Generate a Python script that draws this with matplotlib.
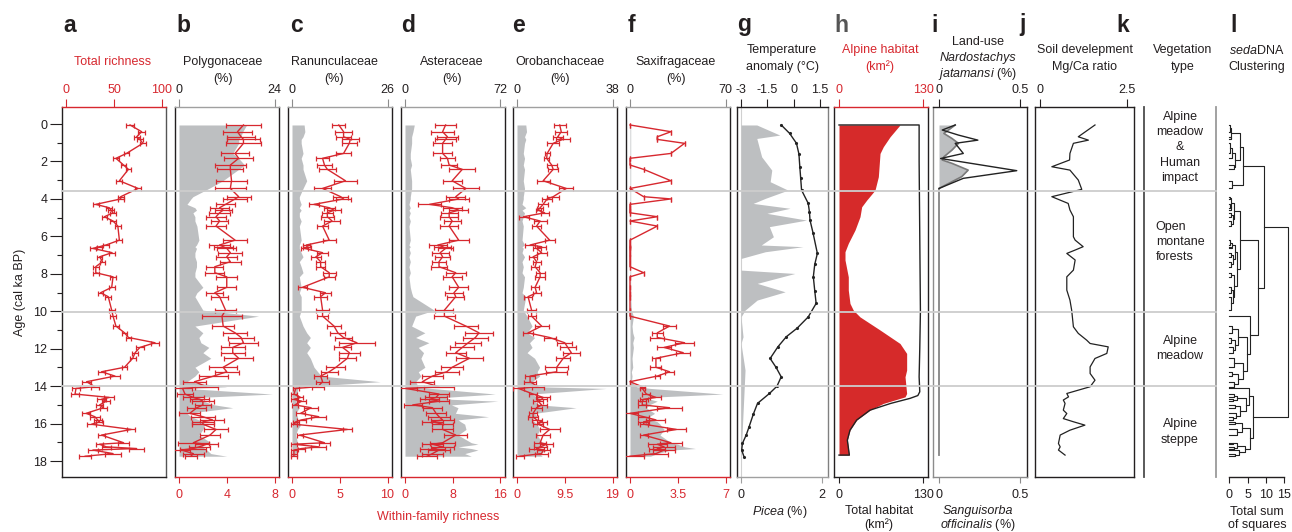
import matplotlib
matplotlib.use("Agg")
import matplotlib.pyplot as plt
from matplotlib.lines import Line2D
from matplotlib.ticker import MultipleLocator
from matplotlib.transforms import blended_transform_factory

plt.rcParams['font.family'] = ['Liberation Sans', 'DejaVu Sans']
plt.rcParams['mathtext.fontset'] = 'custom'
plt.rcParams['mathtext.rm'] = 'Liberation Sans'
plt.rcParams['mathtext.it'] = 'Liberation Sans:italic'
plt.rcParams['axes.unicode_minus'] = False

# ---------------------------------------------------------------- data
ages = [0.05, 0.41, 0.68, 0.82, 1.03, 1.57, 1.83, 2.19, 2.42, 3.03,
        3.44, 3.88, 4.00, 4.29, 4.47, 4.60, 4.74, 4.95, 5.18, 5.45,
        6.20, 6.46, 6.55, 6.64, 6.87, 7.09, 7.35, 7.62, 7.94, 8.16,
        8.72, 9.01, 9.22, 9.94, 10.26, 10.79, 11.15, 11.40, 11.68, 11.93,
        12.21, 12.51, 12.99, 13.23, 13.46, 13.76, 14.03, 14.12, 14.42, 14.60,
        14.70, 14.80, 15.00, 15.15, 15.45, 15.63, 15.80, 15.90, 16.03, 16.31,
        16.61, 17.02, 17.10, 17.24, 17.33, 17.41, 17.60, 17.74]

rich_a = [66.7, 78.8, 73.6, 77, 80, 63, 52, 60, 65, 55.6,
          75, 57, 57, 31, 45, 47, 49, 40, 49, 54,
          55.6, 41.7, 35, 28, 48, 35, 38, 31, 31, 49,
          47.6, 36, 44, 47.6, 49, 52, 61, 65, 92.7, 77,
          72, 69.5, 61, 37, 51, 21.5, 30, 10.4, 9.4, 45,
          37, 42, 35, 39, 21, 30, 33, 35, 26.7, 68,
          37, 60, 35, 42, 73.6, 28, 49, 20]
err_a = [4, 4, 3, 3, 3, 3, 3, 3, 3, 3,
         3, 3, 3, 3, 3, 3, 3, 3, 3, 3,
         3, 3, 3, 3, 3, 3, 3, 3, 3, 3,
         3, 3, 3, 3, 3, 3, 3, 3, 4, 4,
         3, 3, 3, 4, 5, 5, 4, 4, 4, 5,
         5, 4, 4, 4, 4, 5, 4, 4, 5, 4,
         4, 6, 4, 5, 8, 5, 8, 6]

rich_b = [5.4, 4.9, 5.2, 5.4, 5.4, 4.7, 5.0, 4.3, 4.3, 4.4,
          4.3, 5.0, 4.7, 3.9, 3.4, 3.7, 3.4, 3.1, 3.4, 3.1,
          4.7, 3.4, 3.7, 4.0, 4.3, 4.0, 4.3, 3.0, 3.0, 4.0,
          4.0, 3.0, 3.4, 3.9, 3.6, 3.7, 4.7, 5.2, 5.4, 4.5,
          4.5, 5.0, 3.7, 4.0, 2.9, 1.3, 2.3, 0.3, 0.5, 1.2,
          1.7, 2.0, 2.0, 1.5, 0.9, 2.0, 2.8, 2.0, 2.0, 3.1,
          2.6, 1.2, 2.3, 1.7, 1.2, 0.2, 1.2, 1.0]
err_b = [1.5, 1.2, 1.2, 1.4, 1.5, 1.2, 1.2, 1.3, 1.1, 1.3,
         1.3, 1.0, 1.0, 0.8, 0.8, 0.7, 0.9, 0.8, 0.7, 0.8,
         1.0, 0.9, 0.8, 0.8, 1.0, 0.9, 0.9, 0.7, 0.8, 0.9,
         0.8, 0.7, 0.7, 0.9, 1.7, 0.9, 1.0, 1.1, 1.2, 1.0,
         1.0, 1.2, 1.2, 1.0, 1.2, 1.0, 1.0, 0.8, 0.7, 0.9,
         0.8, 0.9, 0.7, 0.8, 0.9, 1.0, 1.0, 0.9, 0.9, 1.0,
         0.8, 1.3, 1.0, 0.9, 1.1, 0.7, 0.9, 0.5]
pct_b = [17, 16, 15.5, 15, 15, 13.5, 15, 16.5, 15, 11,
         7.5, 3.5, 3, 2, 4, 4.4, 3.5, 4, 4, 4.5,
         5, 4.4, 4, 4.4, 4, 4, 4.4, 4.4, 4, 4,
         6, 4.5, 4, 6, 20, 4, 6, 5, 5.5, 7.5,
         6, 8, 4, 5, 4, 2, 12, 2, 23.5, 5,
         6, 6, 9, 13.5, 2, 3, 5, 6, 6.5, 6,
         5, 8, 6, 6, 6.5, 7, 8, 12]

rich_c = [4.9, 5.4, 5.4, 6.1, 6.0, 5.4, 3.2, 3.4, 3.7, 5.6,
          3.2, 5.1, 5.4, 2.3, 3.9, 4.4, 3.7, 3.7, 4.2, 3.2,
          3.9, 1.5, 1.6, 1.3, 3.2, 2.5, 3.0, 3.0, 3.9, 3.9,
          1.1, 3.5, 3.0, 3.2, 3.2, 4.4, 4.8, 5.4, 6.8, 5.3,
          6.0, 5.8, 4.6, 3.9, 3.0, 3.2, 2.7, 0.4, 0.2, 0.9,
          0.2, 1.0, 0.3, 2.0, 0.9, 2.8, 1.0, 0.4, 0.2, 5.8,
          0.8, 3.4, 0.2, 2.8, 1.0, 0.2, 0.2, 0.2]
err_c = [0.7, 0.9, 0.8, 0.9, 0.8, 0.8, 0.7, 0.8, 0.9, 1.2,
         0.9, 0.8, 0.8, 0.5, 0.6, 0.7, 0.6, 0.7, 0.8, 0.6,
         0.7, 0.4, 0.4, 0.4, 0.6, 0.5, 0.5, 0.5, 0.7, 0.6,
         0.5, 0.6, 0.7, 0.7, 0.6, 0.7, 0.8, 0.9, 1.9, 0.9,
         1.1, 0.9, 1.0, 0.9, 0.7, 0.7, 0.6, 0.3, 0.3, 0.3,
         0.3, 0.5, 0.3, 0.7, 0.5, 0.8, 0.5, 0.3, 0.3, 0.5,
         0.3, 0.6, 0.3, 0.8, 0.4, 0.3, 0.3, 0.3]
pct_c = [3.3, 3.5, 3, 2.5, 2.5, 3, 2.5, 3, 3, 4,
         3, 2, 2, 2.5, 2, 2.5, 2, 2, 2.5, 2,
         2.5, 2, 2, 2, 2.5, 3, 2, 2.5, 3, 2,
         2.5, 2, 2.5, 2.5, 2, 3, 4, 5, 4, 5,
         4, 5, 6, 7, 8, 24, 3, 1.5, 1.5, 1,
         1.5, 1, 1.5, 2, 1, 1.5, 1.5, 1, 2.5, 1.5,
         1, 1.5, 1, 1.5, 1, 1.5, 1, 1]

rich_d = [6.8, 6.3, 7.1, 6.8, 6.3, 6.3, 7.1, 7.4, 9.6, 7.9,
          10.2, 8.5, 9.0, 4.1, 7.9, 9.0, 7.4, 7.4, 7.9, 7.4,
          9.0, 5.5, 6.3, 6.8, 5.9, 6.3, 5.7, 5.7, 8.5, 7.9,
          9.0, 8.2, 8.5, 6.6, 6.6, 10.2, 12.4, 11.8, 10.6, 9.6,
          8.5, 10.8, 7.9, 7.0, 4.6, 2.9, 5.7, 0.1, 5.7, 5.2,
          4.1, 5.7, 1.3, 4.6, 5.2, 5.7, 6.3, 4.6, 6.3, 6.3,
          8.5, 6.3, 4.6, 6.3, 4.6, 5.7, 4.6, 3.7]
err_d = [1.8, 1.9, 1.7, 1.8, 1.6, 1.6, 1.2, 1.3, 2.2, 1.6,
         2.2, 1.6, 1.7, 1.9, 1.6, 1.6, 1.4, 1.5, 1.4, 1.5,
         1.7, 1.5, 1.4, 1.3, 1.4, 1.3, 1.2, 1.4, 1.7, 1.6,
         1.6, 1.5, 1.4, 1.5, 1.8, 2.0, 2.3, 2.1, 2.2, 2.0,
         1.7, 2.2, 1.8, 2.0, 1.8, 2.0, 2.5, 1.9, 1.7, 1.8,
         1.6, 1.7, 1.5, 1.6, 1.7, 1.8, 1.9, 1.7, 1.8, 1.8,
         1.9, 2.1, 1.8, 1.9, 2.1, 1.8, 1.8, 1.7]
pct_d = [7, 6, 5, 5, 5, 4, 4, 5, 4, 5,
         5, 4, 4, 3, 4, 3, 4, 3, 4, 3,
         4, 3, 4, 3, 4, 3, 4, 3, 4, 3,
         4, 5, 6, 22, 8, 5, 15, 8, 18, 10,
         14, 12, 15, 10, 12, 8, 10, 20, 68, 30,
         35, 70, 35, 40, 38, 63, 40, 42, 45, 46,
         40, 50, 55, 40, 50, 55, 45, 50]

rich_e = [8.5, 8.8, 8.1, 9.1, 7.2, 6.0, 5.9, 6.9, 7.2, 5.2,
          9.8, 7.2, 6.0, 5.2, 4.6, 4.2, 5.5, 1.3, 4.6, 3.9,
          6.5, 2.6, 4.9, 3.9, 4.9, 3.2, 3.9, 3.6, 4.6, 4.6,
          3.6, 3.9, 2.2, 2.9, 2.9, 4.9, 2.2, 6.5, 9.5, 10.1,
          10.8, 9.2, 7.9, 7.9, 2.6, 2.6, 4.2, 0.3, 3.2, 5.2,
          4.9, 4.2, 4.9, 3.9, 3.2, 3.2, 3.9, 4.9, 4.2, 6.5,
          5.2, 4.6, 5.9, 4.6, 3.9, 5.2, 4.9, 0.6]
err_e = [1.2, 1.2, 1.0, 1.4, 1.2, 0.5, 0.5, 1.0, 1.0, 1.3,
         1.4, 1.2, 1.0, 1.0, 0.6, 0.5, 0.8, 1.0, 1.3, 0.9,
         1.0, 1.0, 0.9, 0.8, 1.0, 0.8, 0.8, 0.8, 0.9, 1.0,
         0.8, 0.8, 0.8, 0.9, 0.8, 1.4, 1.0, 1.2, 1.5, 1.6,
         1.7, 1.4, 2.3, 2.1, 1.0, 1.2, 1.2, 1.0, 0.8, 1.4,
         1.0, 1.0, 1.0, 1.1, 0.8, 1.0, 1.0, 1.0, 1.0, 2.0,
         1.4, 1.2, 1.3, 1.3, 1.5, 1.3, 1.3, 0.8]
pct_e = [3.5, 3.8, 3, 3.5, 3, 2.5, 3, 2.5, 3, 2.5,
         3, 2.5, 2.5, 2, 3.5, 2, 3, 2.5, 2, 2.5,
         2, 3, 2, 2.5, 2, 3, 2, 2.5, 2, 3,
         2.5, 2, 3.5, 2.5, 4, 6, 4, 7, 5, 6,
         4, 7, 9, 8, 9, 6, 8, 35.5, 6, 8,
         10, 7, 9, 23.5, 7, 8, 6, 7, 8, 9,
         8, 10, 9, 11, 8, 12, 9, 10]

rich_f = [0, 3.0, 2.0, 2.0, 4.0, 3.0, 0, 0, 1.0, 3.0,
          0, 1.0, 3.0, 0, 0, 0, 0, 2.0, 0, 2.0,
          0, 0, 0, 0, 0, 0, 0, 0, 1.0, 0,
          0, 0, 0, 0, 0, 2.9, 2.0, 2.0, 4.0, 2.5,
          3.9, 1.9, 1.9, 2.9, 2.0, 0, 0.9, 0.9, 1.2, 1.9,
          1.0, 0.9, 0.9, 2.9, 0, 1.0, 1.9, 1.0, 1.0, 3.4,
          1.0, 3.0, 2.0, 2.5, 2.0, 2.5, 1.9, 0]
err_f = [0, 0, 0, 0, 0, 0, 0, 0, 0, 0,
         0, 0, 0, 0, 0, 0, 0, 0, 0, 0,
         0, 0, 0, 0, 0, 0, 0, 0, 0, 0,
         0, 0, 0, 0, 0, 0.5, 0.4, 0.5, 0.7, 0.5,
         0.5, 0.3, 0.4, 0.3, 0.2, 0.0, 0.2, 0.2, 0.3, 0.4,
         0.3, 0.3, 0.3, 0.9, 0.6, 0.4, 0.7, 0.4, 0.3, 0.7,
         0.3, 0.8, 0.7, 0.8, 0.6, 0.8, 0.9, 1.0]
pct_f = [0.5, 0.5, 0.5, 0.5, 0.5, 0.5, 0.5, 0.5, 0.5, 0.5,
         0.5, 0.5, 0.5, 0.5, 0.5, 0.5, 0.5, 0.5, 0.5, 0.5,
         0.5, 0.5, 0.5, 0.5, 0.5, 0.5, 0.5, 0.5, 0.5, 0.5,
         0.5, 0.5, 0.5, 1, 2.5, 1.5, 2, 3, 2, 2.5,
         2, 1.5, 2, 1, 1.5, 1, 5, 15, 68, 12,
         15, 20, 14, 12, 18, 14, 16, 20, 22, 25,
         22, 30, 35, 40, 48, 30, 20, 15]

temp_ages = [0.05, 0.5, 1.03, 1.6, 2.28, 2.9, 3.53, 4.24, 4.7, 5.13, 5.8, 6.91,
             7.5, 8.16, 8.9, 9.58, 10.3, 10.9, 11.36, 11.9, 12.52, 13.0, 13.5,
             14.0, 14.39, 14.92, 15.5, 16.17, 16.6, 17.06, 17.41, 17.77]
temp_vals = [-0.71, -0.23, 0.16, 0.3, 0.35, 0.4, 0.45, 0.83, 0.9, 0.93, 1.1, 1.35,
             1.2, 1.12, 1.2, 1.28, 0.83, 0.2, -0.42, -0.9, -1.34, -1.0, -0.71,
             -0.95, -1.38, -2.06, -2.3, -2.54, -2.7, -2.92, -2.96, -2.83]

picea_ages = [0.05, 0.59, 0.77, 1.75, 2.46, 3.08, 3.53, 3.97, 4.24, 4.5, 4.77, 5.13,
              5.48, 6.02, 6.46, 6.55, 6.82, 7.18, 7.8, 7.98, 8.51, 8.96, 9.4, 9.94,
              10.3, 11.36, 11.72, 13.14, 17.77]
picea_vals = [0.39, 0.96, 0.39, 0.51, 0.76, 0.72, 1.16, 0.6, 0.3, 1.21, 0.64, 1.62,
              0.7, 0.8, 0.5, 1.53, 0.6, 0.0, 0.0, 1.33, 0.4, 1.09, 0.4, 0.1,
              0.0, 0.05, 0.0, 0.1, 0.0]

hab_ages = [0.05, 0.68, 1.21, 1.57, 2.81, 3.53, 4.06, 4.42, 4.95, 5.66, 6.37, 6.82,
            7.26, 8.16, 8.87, 9.58, 9.94, 10.3, 11.0, 11.72, 12.25, 13.14, 13.5,
            14.39, 14.57, 14.92, 15.28, 15.81, 16.35, 16.88, 17.68]
alpine_vals = [94.4, 79, 68.6, 63.5, 60.9, 55.7, 42.9, 35.1, 32.5, 24.8, 14.4, 9.3,
               9.3, 14.4, 14.4, 17, 22.1, 32.5, 63.5, 94.4, 104.7, 104.7, 102.2,
               104.7, 102.2, 68.6, 48, 27.3, 17, 12.9, 16]
total_ages = [0.05, 0.05, 2.0, 6.0, 10.0, 12.0, 13.5, 14.3, 14.5, 14.65, 14.92,
              15.28, 15.81, 16.35, 16.88, 17.68, 17.68]
total_vals = [0, 124, 124, 125, 126, 125, 124, 125, 122, 110, 80,
              48, 27.3, 17, 12.9, 16, 0]

nard_ages = [0.05, 0.32, 0.59, 0.86, 1.03, 1.57, 1.84, 2.49, 2.9, 3.44]
nard_vals = [0.1, 0.02, 0.12, 0.24, 0.1, 0.15, 0.01, 0.48, 0.15, 0.0]
sang_ages = [0.05, 0.5, 0.77, 1.03, 1.39, 1.75, 1.92, 2.1, 2.46, 2.81, 3.44, 17.68]
sang_vals = [0.1, 0.03, 0.08, 0.12, 0.08, 0.03, 0.02, 0.08, 0.18, 0.14, 0.0, 0.0]

mg_ages = [0.05, 0.68, 0.86, 1.03, 1.57, 1.92, 2.28, 2.46, 2.99, 3.49,
           3.88, 4.24, 4.59, 4.95, 5.48, 6.02, 6.2, 6.55, 6.73, 6.91,
           7.26, 7.8, 8.16, 8.87, 9.4, 9.94, 10.83, 11.18, 11.54, 11.72,
           11.9, 12.25, 12.52, 12.97, 13.32, 13.68, 14.03, 14.39, 14.57, 14.74,
           14.92, 15.28, 15.46, 15.73, 15.9, 16.08, 16.35, 16.61, 17.06, 17.24,
           17.41, 17.68]
mg_vals = [1.58, 1.1, 1.39, 0.96, 0.86, 0.85, 0.34, 0.86, 1.1, 1.2,
           0.34, 0.81, 0.86, 0.96, 0.96, 0.96, 1.01, 1.24, 1.01, 0.77,
           1.01, 0.96, 0.77, 0.77, 0.86, 0.91, 0.96, 1.1, 1.34, 1.44,
           1.96, 1.92, 1.58, 1.44, 1.44, 1.58, 1.44, 0.77, 0.82, 0.67,
           0.72, 0.67, 0.77, 0.67, 0.96, 1.29, 0.86, 0.58, 0.53, 0.58,
           0.53, 0.72]

zone_bounds = [3.56, 10.03, 14.0]
veg_types = ['Alpine\nmeadow\n&\nHuman\nimpact', 'Open\nmontane\nforests',
             'Alpine\nmeadow', 'Alpine\nsteppe']

# dendrogram: (height, left, right); ints are sample indices into `ages`
C1 = (3.8, (3.0, (0.6, (0.3, 0, 1), (0.4, 2, 3)),
            (1.5, (0.8, (0.3, 4, 5), 6), (1.2, 7, 8))), (0.8, 9, 10))
C2 = (2.9, (1.3, (0.6, (0.3, 11, 12), (0.4, (0.2, 13, 14), 15)),
            (0.9, (0.5, 16, 17), (0.6, 18, 19))),
      (2.2, (1.5, (0.8, (0.3, 20, 21), (0.4, 22, 23)),
             (1.0, (0.5, 24, 25), (0.6, 26, 27))),
       (1.2, (0.6, 28, 29), (0.9, (0.4, 30, 31), (0.5, 32, 33)))))
C3 = (5.7, 34, (4.9, (2.4, (0.8, 35, 36), (1.5, (0.6, 37, 38), (0.9, 39, 40))),
                (3.8, (1.2, 41, 42), (2.5, (0.8, 43, 44), (1.4, 45, 46)))))
C4 = (6.4, (5.4, 47, (4.6, (2.0, (1.2, 48, 49), (0.9, 50, 51)),
                      (3.0, (1.5, 52, 53), (1.8, 54, (1.0, 55, 56))))),
      (5.8, (3.4, (1.6, 57, 58), (2.2, 59, 60)),
       (4.2, (2.0, (1.0, 61, 62), (1.4, 63, 64)), (2.6, 65, (1.5, 66, 67)))))
tree = (16.2, (9.6, C1, (7.9, C2, C3)), C4)

# ---------------------------------------------------------------- style
W, H = 1292, 532
FS = 9
RED = '#d7282f'
GREY = '#bdbfc1'
TXT = '#231f20'
TOP, BOT = 107, 477
AGE_LIM = (18.85, -0.91)

fig = plt.figure(figsize=(W / 100, H / 100), dpi=100)


def rect(x0, x1):
    return [x0 / W, (H - BOT) / H, (x1 - x0) / W, (BOT - TOP) / H]


def make_lim(v0, v1, x0, x1, p0, p1):
    s = (v1 - v0) / (p1 - p0)
    return (v0 - (p0 - x0) * s, v1 + (x1 - p1) * s)


def style_x(ax, side, ticks, labels, tick_color, label_color):
    ax.set_xticks(ticks)
    ax.set_xticklabels(labels)
    if side == 'top':
        ax.tick_params(axis='x', which='both', top=True, bottom=False,
                       labeltop=True, labelbottom=False, length=6, pad=2)
    else:
        ax.tick_params(axis='x', which='both', top=False, bottom=True,
                       labeltop=False, labelbottom=True, length=4.5, pad=4)
    ax.tick_params(axis='x', direction='out', width=0.8, color=tick_color,
                   labelcolor=label_color, labelsize=FS)


def set_spines(ax, top=None, bottom=None, left=None, right=None, lw=1.0):
    for name, c in (('top', top), ('bottom', bottom), ('left', left), ('right', right)):
        if c is None:
            ax.spines[name].set_visible(False)
        else:
            ax.spines[name].set_color(c)
            ax.spines[name].set_linewidth(lw)


def lines_at(cx, ys, strs, color=TXT, styles=None):
    for i, (y, s) in enumerate(zip(ys, strs)):
        st = styles[i] if styles else 'normal'
        fig.text(cx / W, 1 - y / H, s, ha='center', va='center', fontsize=FS,
                 color=color, style=st)


def eb(ax, x, y, e):
    ax.errorbar(x, y, xerr=e, fmt='-', color=RED, ecolor=RED, lw=1.0,
                elinewidth=0.9, capsize=1.8, capthick=0.9, zorder=3)


# ---------------------------------------------------------------- panel a
ax_a = fig.add_axes(rect(62, 166))
ax_a.set_ylim(AGE_LIM)
ax_a.set_xlim(make_lim(0, 100, 62, 166, 66, 162))
eb(ax_a, rich_a, ages, err_a)
style_x(ax_a, 'top', [0, 50, 100], ['0', '50', '100'], RED, RED)
set_spines(ax_a, top=RED, bottom=TXT, left=TXT, right='#555555')
ax_a.yaxis.set_major_locator(MultipleLocator(2))
ax_a.yaxis.set_minor_locator(MultipleLocator(1))
ax_a.tick_params(axis='y', which='major', length=8.5, width=0.8, pad=2,
                 labelsize=FS, colors=TXT)
ax_a.tick_params(axis='y', which='minor', length=3.6, width=0.8, colors=TXT)
ax_a.set_ylabel('Age (cal ka BP)', fontsize=FS, color=TXT, labelpad=5)
lines_at(113, [62], ['Total richness'], color=RED)

# ---------------------------------------------------------------- panels b-f
fam_specs = [
    (175, 279, pct_b, rich_b, err_b, 24, [0, 4, 8], ['0', '4', '8'], 'Polygonaceae', 223),
    (288, 392, pct_c, rich_c, err_c, 26, [0, 5, 10], ['0', '5', '10'], 'Ranunculaceae', 334),
    (401, 505, pct_d, rich_d, err_d, 72, [0, 8, 16], ['0', '8', '16'], 'Asteraceae', 452),
    (513, 617, pct_e, rich_e, err_e, 38, [0, 9.5, 19], ['0', '9.5', '19'], 'Orobanchaceae', 560),
    (626, 730, pct_f, rich_f, err_f, 70, [0, 3.5, 7], ['0', '3.5', '7'], 'Saxifragaceae', 676),
]
for x0, x1, pct, rich, err, pmax, rt, rl, title, tcx in fam_specs:
    ax = fig.add_axes(rect(x0, x1))
    ax.set_ylim(AGE_LIM)
    ax.set_yticks([])
    ax.set_xlim(make_lim(0, pmax, x0, x1, x0 + 4, x1 - 4.5))
    ax.fill_betweenx(ages, 0, pct, color=GREY, lw=0, zorder=1)
    tw = ax.twiny()
    tw.set_xlim(make_lim(0, rt[-1], x0, x1, x0 + 4, x1 - 4.5))
    eb(tw, rich, ages, err)
    style_x(ax, 'top', [0, pmax], ['0', str(pmax)], '#8c8c8c', TXT)
    style_x(tw, 'bottom', rt, rl, RED, RED)
    set_spines(ax, top='#a0a0a0', bottom=None, left=TXT, right=TXT)
    set_spines(tw, bottom=RED)
    lines_at(tcx, [62, 79], [title, '(%)'])

fig.text(438 / W, 1 - 517 / H, 'Within-family richness', ha='center', va='center',
         fontsize=FS, color=RED)

# ---------------------------------------------------------------- panel g
ax_g = fig.add_axes(rect(737, 828))
ax_g.set_ylim(AGE_LIM)
ax_g.set_yticks([])
ax_g.set_xlim(make_lim(0, 2, 737, 828, 741, 822))
ax_g.fill_betweenx(picea_ages, 0, picea_vals, color=GREY, lw=0)
ax_g.axvline(0, color='#d0d0d0', lw=0.8, zorder=0)
tw_g = ax_g.twiny()
tw_g.set_xlim(make_lim(-3, 1.5, 737, 828, 741, 820))
tw_g.plot(temp_vals, temp_ages, color='#222222', lw=1.0, marker='.', ms=2.5)
style_x(ax_g, 'bottom', [0, 2], ['0', '2'], '#a0a0a0', TXT)
style_x(tw_g, 'top', [-3, -1.5, 0, 1.5], ['-3', '-1.5', '0', '1.5'], TXT, TXT)
set_spines(ax_g, top=TXT, bottom='#a0a0a0', left=TXT, right='#808080')
set_spines(tw_g)
lines_at(782, [50, 67], ['Temperature', 'anomaly (°C)'])
fig.text(780 / W, 1 - 512 / H, r'$\mathit{Picea}$ (%)', ha='center', va='center',
         fontsize=FS, color=TXT)

# ---------------------------------------------------------------- panel h
ax_h = fig.add_axes(rect(834, 928))
ax_h.set_ylim(AGE_LIM)
ax_h.set_yticks([])
ax_h.set_xlim(make_lim(0, 130, 834, 928, 839, 923))
ax_h.fill_betweenx(hab_ages, 0, alpine_vals, color='#d62a2a', lw=0)
tw_h = ax_h.twiny()
tw_h.set_xlim(make_lim(0, 130, 834, 928, 839, 923))
tw_h.plot(total_vals, total_ages, color='#222222', lw=1.0)
style_x(ax_h, 'top', [0, 130], ['0', '130'], RED, RED)
style_x(tw_h, 'bottom', [0, 130], ['0', '130'], TXT, TXT)
set_spines(ax_h, top=RED, left=TXT, right=TXT)
set_spines(tw_h, bottom=TXT)
lines_at(880, [50, 67], ['Alpine habitat', '(km²)'], color=RED)
lines_at(879, [511, 525], ['Total habitat', '(km²)'])

# ---------------------------------------------------------------- panel i
ax_i = fig.add_axes(rect(933, 1027))
ax_i.set_ylim(AGE_LIM)
ax_i.set_yticks([])
ax_i.set_xlim(make_lim(0, 0.5, 933, 1027, 939, 1020))
ax_i.fill_betweenx(sang_ages, 0, sang_vals, color=GREY, lw=0)
ax_i.plot(sang_vals, sang_ages, color='#7a7a7a', lw=1.2)
tw_i = ax_i.twiny()
tw_i.set_xlim(make_lim(0, 0.5, 933, 1027, 939, 1020))
tw_i.plot(nard_vals, nard_ages, color='#222222', lw=1.0)
style_x(ax_i, 'bottom', [0, 0.5], ['0', '0.5'], '#8c8c8c', TXT)
style_x(tw_i, 'top', [0, 0.5], ['0', '0.5'], TXT, TXT)
set_spines(ax_i, top=TXT, bottom='#8c8c8c', left='#8c8c8c', right=TXT)
set_spines(tw_i)
lines_at(978, [42, 58, 74], ['Land-use', 'Nardostachys', r'$\mathit{jatamansi}$ (%)'],
         styles=['normal', 'italic', 'normal'])
lines_at(978, [511, 525], ['Sanguisorba', r'$\mathit{officinalis}$ (%)'],
         styles=['italic', 'normal'])

# ---------------------------------------------------------------- panel j
ax_j = fig.add_axes(rect(1035, 1134))
ax_j.set_ylim(AGE_LIM)
ax_j.set_yticks([])
ax_j.set_xlim(make_lim(0, 2.5, 1035, 1134, 1040, 1127))
ax_j.plot(mg_vals, mg_ages, color='#222222', lw=0.9)
style_x(ax_j, 'top', [0, 2.5], ['0', '2.5'], TXT, TXT)
set_spines(ax_j, top=TXT, bottom=TXT, left=TXT, right=TXT)
lines_at(1085, [50, 67], ['Soil develepment', 'Mg/Ca ratio'])

# ---------------------------------------------------------------- panel k
ax_k = fig.add_axes(rect(1144, 1216))
ax_k.set_ylim(AGE_LIM)
ax_k.set_xticks([])
ax_k.set_yticks([])
ax_k.patch.set_visible(False)
set_spines(ax_k, left='#4d4d4d', right='#9a9a9a', lw=1.3)
trk = blended_transform_factory(ax_k.transAxes, ax_k.transData)
veg_pos = [(0.5, 1.25, 'center'), (0.5, 6.3, 'left'), (0.5, 12.0, 'center'),
           (0.5, 16.45, 'center')]
for (px, py, ma), label in zip(veg_pos, veg_types):
    ax_k.text(px, py, label, transform=trk, ha='center', va='center',
              multialignment=ma, fontsize=FS, color=TXT, linespacing=1.38)
lines_at(1183, [50, 67], ['Vegetation', 'type'])

# ---------------------------------------------------------------- panel l
ax_l = fig.add_axes(rect(1222, 1292))
ax_l.set_ylim(AGE_LIM)
ax_l.set_xlim(make_lim(0, 15, 1222, 1292, 1229.3, 1284))
ax_l.patch.set_visible(False)
ax_l.set_yticks([])


def draw_node(node):
    if isinstance(node, int):
        return ages[node], 0.0
    h, left, right = node
    y1, h1 = draw_node(left)
    y2, h2 = draw_node(right)
    ax_l.plot([h1, h, h, h2], [y1, y1, y2, y2], color='#222222', lw=0.8)
    return (y1 + y2) / 2, h


draw_node(tree)
set_spines(ax_l, bottom=TXT)
ax_l.spines['bottom'].set_bounds(0, 15)
style_x(ax_l, 'bottom', [0, 5, 10, 15], ['0', '5', '10', '15'], TXT, TXT)
lines_at(1257, [50, 67], [r'$\mathit{seda}$DNA', 'Clustering'])
lines_at(1257, [512, 525], ['Total sum', 'of squares'])

# ---------------------------------------------------------------- zone lines
inv = fig.transFigure.inverted()
xl = ax_a.get_position().x0
xr = ax_k.get_position().x1
for b in zone_bounds:
    yf = inv.transform(ax_a.transData.transform((0, b)))[1]
    fig.add_artist(Line2D([xl, xr], [yf, yf], color='#cdcdcd', lw=1.3, zorder=5))

# ---------------------------------------------------------------- panel letters
letters = ['a', 'b', 'c', 'd', 'e', 'f', 'g', 'h', 'i', 'j', 'k', 'l']
letter_x = [63, 176, 290, 401, 512, 628, 737, 834, 931, 1019, 1116, 1230]
for lt, lx in zip(letters, letter_x):
    fig.text(lx / W, 1 - 31.5 / H, lt, ha='left', va='baseline', fontsize=16.5,
             fontweight='bold', color='#555555' if lt == 'h' else TXT)

fig.savefig('out.png', dpi=100)
